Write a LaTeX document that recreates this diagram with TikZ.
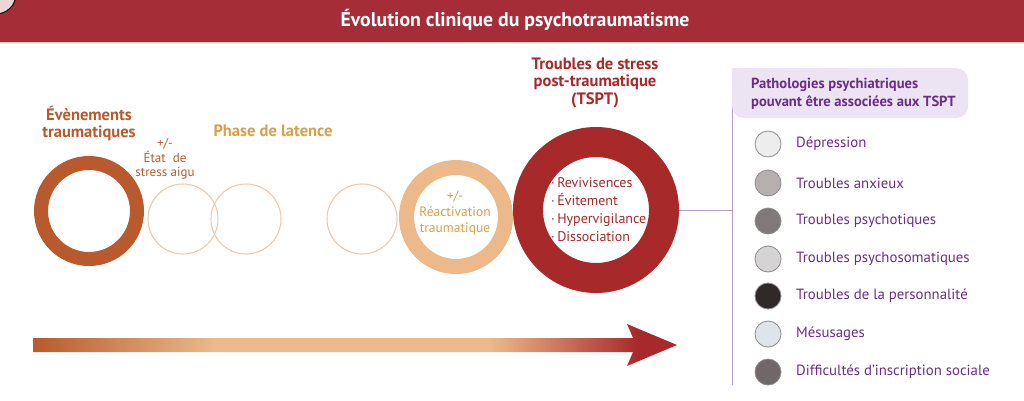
\documentclass[tikz,border=0pt]{standalone}
\usepackage{fontspec}
\setmainfont{PT Sans}
\usetikzlibrary{shapes.geometric}
\definecolor{hdr}{HTML}{A52D38}
\definecolor{evc}{HTML}{B85A2D}
\definecolor{peach}{HTML}{EBB98A}
\definecolor{thinc}{HTML}{F2C9A8}
\definecolor{gold}{HTML}{D9A04A}
\definecolor{tsptc}{HTML}{A8292A}
\definecolor{purp}{HTML}{6B2D86}
\definecolor{lpurp}{HTML}{B79CCB}
\definecolor{lav}{HTML}{EDE4F3}
\definecolor{cA}{HTML}{EDEDED}
\definecolor{cB}{HTML}{B5B0AE}
\definecolor{cC}{HTML}{7F7A79}
\definecolor{cD}{HTML}{D5D3D3}
\definecolor{cE}{HTML}{2E2926}
\definecolor{cF}{HTML}{DFE3EA}
\definecolor{cG}{HTML}{706868}
\pgfdeclarehorizontalshading{arrowshade}{100bp}{color(0bp)=(evc); color(25bp)=(evc); color(39bp)=(peach); color(60.5bp)=(peach); color(72bp)=(tsptc); color(100bp)=(tsptc)}
\begin{document}
\begin{tikzpicture}[x=1pt,y=-1pt,
  ring/.style={circle,draw,inner sep=0,outer sep=0},
  thinring/.style={circle,draw=thinc,line width=1.1pt,inner sep=0,minimum size=70pt},
  bigtxt/.style={font=\fontsize{16.5}{17}\selectfont\bfseries,align=center,inner sep=0},
  smtxt/.style={font=\fontsize{13}{14.5}\selectfont,align=center,inner sep=0},
  dot/.style={circle,draw=black!45,line width=0.8pt,minimum size=26pt,inner sep=0},
  item/.style={anchor=west,text=purp,font=\fontsize{14.8}{16}\selectfont,inner sep=0}]
\useasboundingbox (0,0) rectangle (1024,400);
\fill[white] (0,0) rectangle (1024,400);
% header
\fill[hdr] (0,0) rectangle (1024,42);
\fill[hdr!25] (0,42) rectangle (1024,43.2);
\begin{scope}
\clip (0,0) rectangle (1024,42);
\draw[fill=hdr!20,draw=black,line width=1pt] (-4,-6) circle (20);
\end{scope}
\node[text=white,font=\fontsize{19.8}{20}\selectfont\bfseries,inner sep=0] (title) at (515,20) {Évolution clinique du psychotraumatisme};
% purple structure
\coordinate (vtop) at (732,68);
\coordinate (vjoin) at (732,210);
\coordinate (vbot) at (732,385);
\draw[lpurp,line width=1pt] (vtop) -- (vbot);
\fill[lav] (732,68) [rounded corners=12] -- (968,68) -- (968,118) -- (732,118) [sharp corners] -- cycle;
\node[anchor=west,align=left,text=purp,font=\fontsize{14.6}{18}\selectfont\bfseries,inner sep=0] (phead) at (751,94) {Pathologies psychiatriques\\pouvant être associées aux TSPT};
% rings
\node[ring,draw=tsptc,line width=30pt,minimum size=136pt] (tspt) at (596,210) {};
\draw[lpurp,line width=1pt] (tspt.east) ++(15,0) -- (vjoin);
\node[ring,draw=evc,line width=14pt,minimum size=96pt] (ev) at (89,211) {};
\node[thinring] (s1) at (183,219) {};
\node[thinring] (s2) at (246,219) {};
\node[thinring] (s3) at (362,219) {};
\node[ring,draw=peach,line width=15pt,minimum size=99pt] (react) at (456,217) {};
% texts
\node[bigtxt,text=evc] (evt) at (89,123) {Évènements\\traumatiques};
\node[smtxt,text=evc] (stt) at (165,159) {+/-\\État\ \ de\\stress aigu};
\node[bigtxt,text=gold] (lat) at (273,131) {Phase de latence};
\node[smtxt,text=gold,font=\fontsize{13.5}{16}\selectfont] (rt) at (455,213) {+/-\\Réactivation\\traumatique};
\node[bigtxt,text=tsptc,font=\fontsize{16.5}{17.5}\selectfont\bfseries] (tt) at (595,83) {Troubles de stress\\post-traumatique\\(TSPT)};
\node[anchor=west,align=left,text=tsptc,font=\fontsize{14}{18}\selectfont,inner sep=0] (tl) at (551,210) {·\,Revivisences\\·\,Évitement\\·\,Hypervigilance\\·\,Dissociation};
% list
\foreach \c/\t/\y [count=\i] in {cA/Dépression/144,cB/Troubles anxieux/183,cC/Troubles psychotiques/221,cD/Troubles psychosomatiques/259,cE/Troubles de la personnalité/296,cF/Mésusages/334,cG/Difficultés d’inscription sociale/372}{
  \node[dot,fill=\c] (d\i) at (768,\y) {};
  \node[item] (t\i) at (796,\y) {\t};
}
% arrow
\shade[shading=arrowshade] (33,338) -- (633,338) -- (627,324) -- (677,345) -- (627,366) -- (633,352) -- (33,352) -- cycle;
\end{tikzpicture}
\end{document}
